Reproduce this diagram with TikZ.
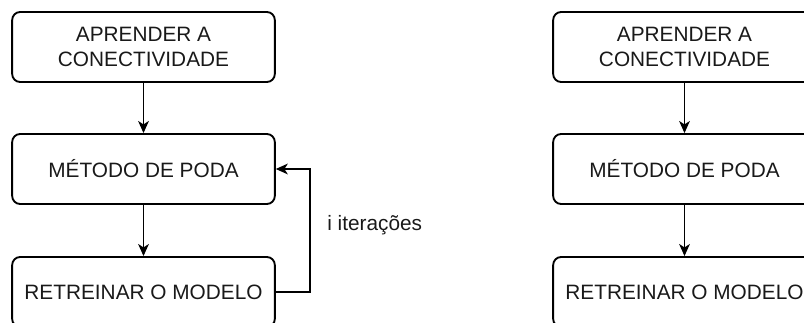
\documentclass[tikz,border=0pt]{standalone}
\usepackage{fontspec}
\setmainfont{Liberation Sans}
\usetikzlibrary{arrows.meta}
\begin{document}
\begin{tikzpicture}[x=0.75pt,y=-0.75pt,
  stepbox/.style={draw=black,line width=1.4pt,rounded corners=6pt,minimum width=197pt,minimum height=52.5pt,inner sep=0pt,align=center,text=black!90,font=\fontsize{15.6}{18.7}\selectfont},
  conn/.style={draw=black,line width=1.4pt,-{Stealth[length=9pt,width=8pt,inset=2.5pt]}}]
\clip (0,0) rectangle (804,322);
\node[stepbox] (a1) at (143.5,47) {APRENDER A\\CONECTIVIDADE};
\node[stepbox] (m1) at (143.5,169) {MÉTODO DE PODA};
\node[stepbox] (r1) at (143.5,292) {RETREINAR O MODELO};
\node[stepbox] (a2) at (684.5,47) {APRENDER A\\CONECTIVIDADE};
\node[stepbox] (m2) at (684.5,169) {MÉTODO DE PODA};
\node[stepbox] (r2) at (684.5,292) {RETREINAR O MODELO};
\draw[conn] (a1) -- (m1);
\draw[conn] (m1) -- (r1);
\draw[conn] (a2) -- (m2);
\draw[conn] (m2) -- (r2);
\coordinate (c1) at (310,292);
\draw[conn] (r1.east) -- (c1) |- (m1.east);
\node[anchor=west,inner sep=0pt,text=black!90,font=\fontsize{15.6}{18.7}\selectfont] (lbl) at (327,225) {i iterações};
\end{tikzpicture}
\end{document}
